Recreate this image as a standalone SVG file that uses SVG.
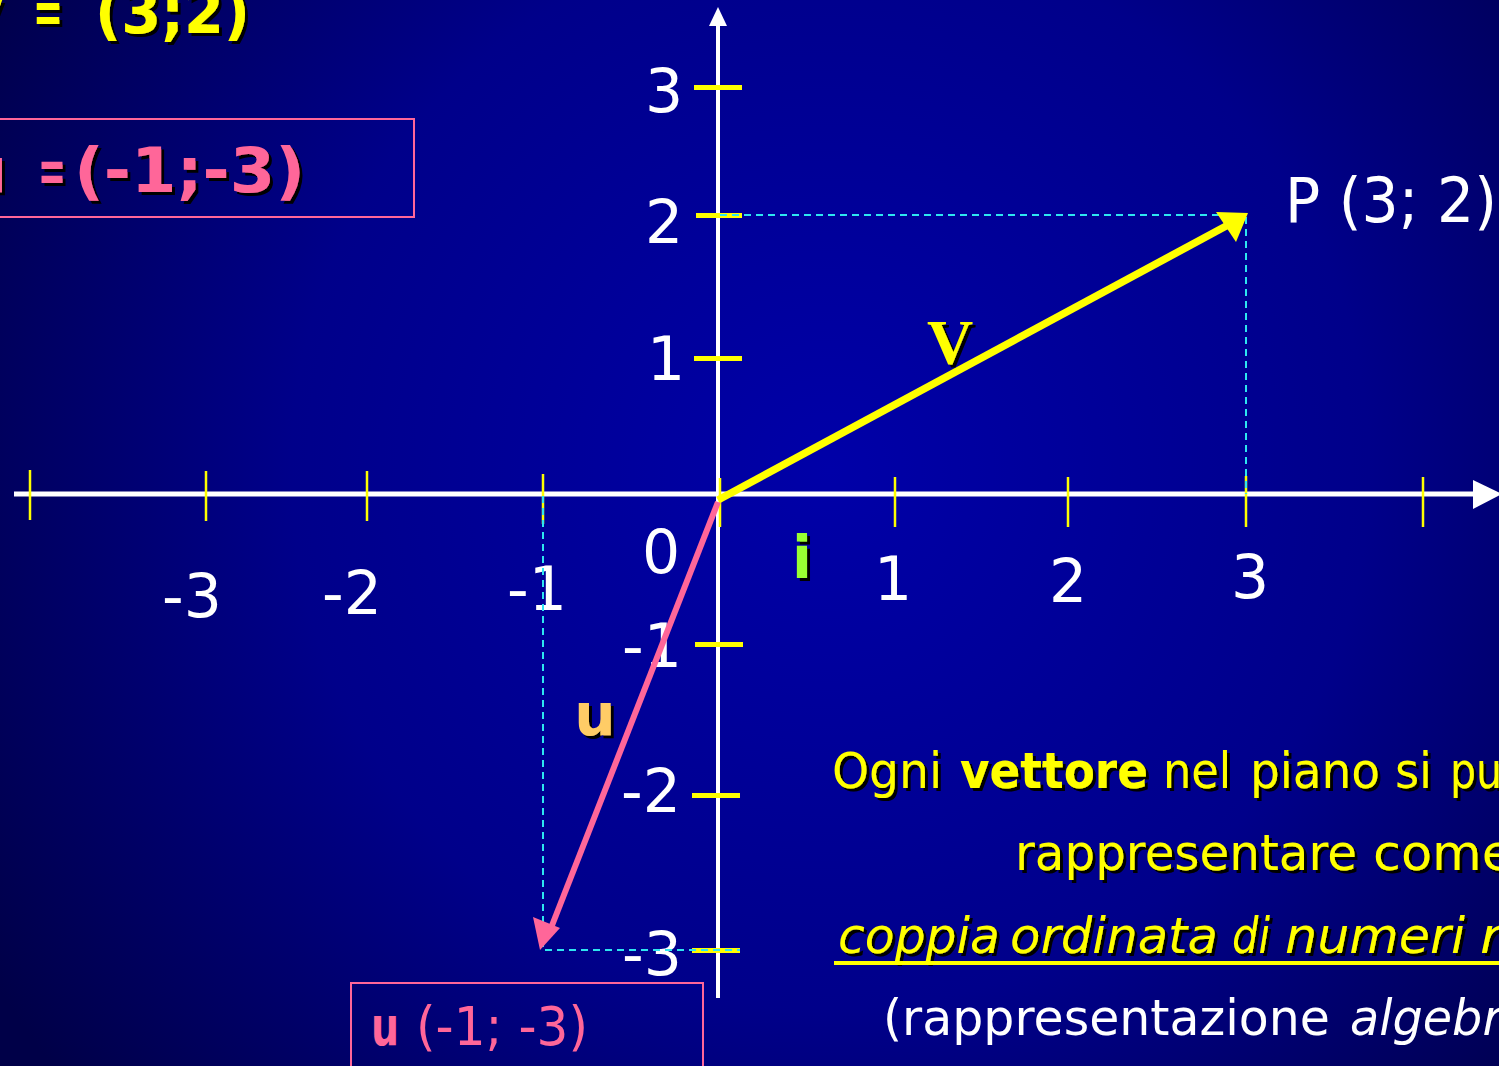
<svg xmlns="http://www.w3.org/2000/svg" width="1499" height="1066" viewBox="0 0 1499 1066">
<defs>
<radialGradient id="bg" gradientUnits="userSpaceOnUse" cx="830" cy="470" r="980">
<stop offset="0" stop-color="#0000a8"/>
<stop offset="0.55" stop-color="#00008a"/>
<stop offset="1" stop-color="#000048"/>
</radialGradient>
<filter id="sh" x="-10%" y="-10%" width="130%" height="130%">
<feDropShadow dx="3" dy="3" stdDeviation="0.4" flood-color="#000" flood-opacity="1"/>
</filter>
</defs>
<style>
.t{font-family:"DejaVu Sans","Noto Sans",sans-serif;}
.ax{fill:#ffffff;font-size:60px;font-family:"DejaVu Sans","Noto Sans",sans-serif;}
.yl{fill:#ffff00;font-family:"DejaVu Sans","Noto Sans",sans-serif;font-size:50px;}
.pk{fill:#ff6699;}
.tick{stroke:#ffff00;stroke-width:2.5;}
.ytick{fill:#ffff00;}
.dash{stroke:#2ee6f0;stroke-width:2;stroke-dasharray:7 5;fill:none;}
</style>
<rect x="0" y="0" width="1499" height="1066" fill="url(#bg)"/>

<g id="axes">
<line x1="14" y1="494" x2="1478" y2="494" stroke="#ffffff" stroke-width="5"/>
<path d="M1473,480 L1502,494 L1473,509 z" fill="#ffffff"/>
<line x1="718" y1="24" x2="718" y2="998" stroke="#ffffff" stroke-width="4"/>
<path d="M709,26 L718,7 L727,26 z" fill="#ffffff"/>
</g>

<g id="ticks">
<line class="tick" x1="30" y1="470" x2="30" y2="520"/>
<line class="tick" x1="206" y1="471" x2="206" y2="521"/>
<line class="tick" x1="367" y1="471" x2="367" y2="521"/>
<line class="tick" x1="543" y1="474" x2="543" y2="524"/>
<line class="tick" x1="720" y1="478" x2="720" y2="527"/>
<line class="tick" x1="895" y1="477" x2="895" y2="527"/>
<line class="tick" x1="1068" y1="477" x2="1068" y2="527"/>
<line class="tick" x1="1246" y1="476" x2="1246" y2="527"/>
<line class="tick" x1="1423" y1="477" x2="1423" y2="527"/>
<rect class="ytick" x="694" y="85" width="48" height="5"/>
<rect class="ytick" x="696" y="213" width="46" height="5"/>
<rect class="ytick" x="694" y="356" width="48" height="5"/>
<rect class="ytick" x="695" y="642" width="48" height="5"/>
<rect class="ytick" x="692" y="793" width="48" height="5"/>
<rect class="ytick" x="692" y="948" width="48" height="5"/>
</g>

<g id="labels-axes">
<text class="ax" x="664" y="112" text-anchor="middle">3</text>
<text class="ax" x="664" y="243" text-anchor="middle">2</text>
<text class="ax" x="666" y="380" text-anchor="middle">1</text>
<text class="ax" x="661" y="573" text-anchor="middle">0</text>
<text class="ax" x="652" y="667" text-anchor="middle">-1</text>
<text class="ax" x="651" y="812" text-anchor="middle">-2</text>
<text class="ax" x="652" y="975" text-anchor="middle">-3</text>
<text class="ax" x="192" y="617" text-anchor="middle">-3</text>
<text class="ax" x="352" y="614" text-anchor="middle">-2</text>
<text class="ax" x="537" y="610" text-anchor="middle">-1</text>
<text class="ax" x="893" y="600" text-anchor="middle">1</text>
<text class="ax" x="1068" y="602" text-anchor="middle">2</text>
<text class="ax" x="1250" y="598" text-anchor="middle">3</text>
</g>

<g id="connectors">
<path class="dash" d="M720,215 L1246,215 L1246,494"/>
<path class="dash" d="M543,496 L543,950 L740,950"/>
<line x1="718" y1="500" x2="1228" y2="225" stroke="#ffff00" stroke-width="7.5"/>
<path d="M1248,213 L1216,212 L1236,242 z" fill="#ffff00"/>
<line x1="718" y1="502" x2="551" y2="928" stroke="#ff6699" stroke-width="6"/>
<path d="M540,950 L533,917 L560,928 z" fill="#ff6699"/>
</g>

<g id="node-v-label">
<text x="950" y="364" text-anchor="middle" font-family="Liberation Serif,serif" font-weight="bold" font-size="64" fill="#ffff00" filter="url(#sh)">V</text>
</g>
<g id="node-u-label">
<text class="t" x="595" y="735" text-anchor="middle" font-weight="bold" font-size="58" fill="#ffcc66" filter="url(#sh)">u</text>
</g>
<g id="node-i-label">
<text class="t" x="802" y="578" text-anchor="middle" font-weight="bold" font-size="58" fill="#99ff33" filter="url(#sh)">i</text>
</g>

<g id="node-P">
<text class="t" x="1285" y="222" font-size="62" fill="#ffffff" textLength="212" lengthAdjust="spacingAndGlyphs">P (3; 2)</text>
</g>

<g id="node-v-eq">
<text class="t" y="33" font-size="60" font-weight="bold" fill="#ffff00" filter="url(#sh)"><tspan x="-36">v</tspan><tspan x="33" textLength="30" lengthAdjust="spacingAndGlyphs">=</tspan><tspan x="95" textLength="155" lengthAdjust="spacingAndGlyphs">(3;2)</tspan></text>
</g>

<g id="node-u-box">
<rect x="-5" y="119" width="419" height="98" fill="none" stroke="#ff6699" stroke-width="2"/>
<text class="t pk" y="192" font-size="62" font-weight="bold" filter="url(#sh)"><tspan x="-37">u</tspan><tspan x="38" textLength="28" lengthAdjust="spacingAndGlyphs">=</tspan><tspan x="74" textLength="231" lengthAdjust="spacingAndGlyphs">(-1;-3)</tspan></text>
</g>

<g id="node-u-coord">
<rect x="351" y="983" width="352" height="100" fill="none" stroke="#ff6699" stroke-width="2"/>
<text class="t pk" y="1045" font-size="54"><tspan x="371" font-weight="bold" textLength="28" lengthAdjust="spacingAndGlyphs">u</tspan><tspan x="416" textLength="172" lengthAdjust="spacingAndGlyphs">(-1; -3)</tspan></text>
</g>

<g id="node-text">
<text class="yl" y="788" filter="url(#sh)"><tspan x="832" textLength="110" lengthAdjust="spacingAndGlyphs">Ogni</tspan><tspan x="960" font-weight="bold" textLength="188" lengthAdjust="spacingAndGlyphs">vettore</tspan><tspan x="1163" textLength="68" lengthAdjust="spacingAndGlyphs">nel</tspan><tspan x="1250" textLength="130" lengthAdjust="spacingAndGlyphs">piano</tspan><tspan x="1395" textLength="37" lengthAdjust="spacingAndGlyphs">si</tspan><tspan x="1450" textLength="52" lengthAdjust="spacingAndGlyphs">pu</tspan></text>
<text class="yl" y="870" filter="url(#sh)"><tspan x="1015" textLength="342" lengthAdjust="spacingAndGlyphs">rappresentare</tspan><tspan x="1373" textLength="140" lengthAdjust="spacingAndGlyphs">come</tspan></text>
<text class="yl" y="953" font-style="italic" filter="url(#sh)"><tspan x="838" textLength="162" lengthAdjust="spacingAndGlyphs">coppia</tspan><tspan x="1010" textLength="208" lengthAdjust="spacingAndGlyphs">ordinata</tspan><tspan x="1232" textLength="38" lengthAdjust="spacingAndGlyphs">di</tspan><tspan x="1285" textLength="180" lengthAdjust="spacingAndGlyphs">numeri</tspan><tspan x="1480" textLength="22" lengthAdjust="spacingAndGlyphs">r</tspan></text>
<rect x="834" y="961" width="670" height="4" fill="#ffff00"/>
<text class="t" y="1035" font-size="50" fill="#ffffff"><tspan x="883" textLength="447" lengthAdjust="spacingAndGlyphs">(rappresentazione</tspan><tspan x="1350" font-style="italic" textLength="152" lengthAdjust="spacingAndGlyphs">algebr</tspan></text>
</g>
</svg>
